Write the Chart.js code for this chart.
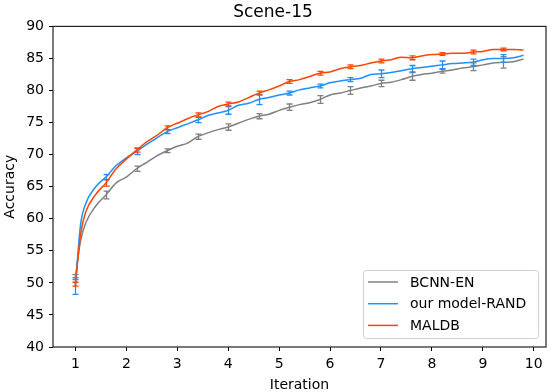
<!DOCTYPE html>
<html>
<head>
<meta charset="utf-8">
<script src="https://cdn.jsdelivr.net/npm/chart.js@4.4.1/dist/chart.umd.min.js"></script>
<style>
  html, body { margin: 0; padding: 0; background: #fff; }
  #wrap { width: 550px; height: 392px; }
</style>
</head>
<body>
<div id="wrap"><canvas id="graphCanvas" width="550" height="392"></canvas></div>
<script>
const xValues = [1, 1.1, 1.2, 1.4, 1.6, 1.8, 2.0, 2.2, 2.4, 2.6, 2.8, 3.0, 3.2, 3.4, 3.6, 3.8, 4.0, 4.2, 4.4, 4.6, 4.8, 5.0, 5.2, 5.4, 5.6, 5.8, 6.0, 6.2, 6.4, 6.6, 6.8, 7.0, 7.2, 7.4, 7.6, 7.8, 8.0, 8.2, 8.4, 8.6, 8.8, 9.0, 9.2, 9.4, 9.6, 9.8];

const bcnnEn = [50.9, 56.5, 59.3, 62.0, 63.7, 65.6, 66.5, 67.8, 68.8, 69.8, 70.6, 71.3, 71.8, 72.8, 73.4, 73.9, 74.3, 74.9, 75.5, 76.0, 76.3, 76.9, 77.4, 77.8, 78.1, 78.6, 79.3, 79.6, 80.0, 80.4, 80.7, 81.1, 81.3, 81.7, 82.2, 82.5, 82.7, 83.0, 83.2, 83.5, 83.7, 84.0, 84.3, 84.4, 84.5, 84.9];
const ourModelRand = [49.5, 59.0, 62.3, 65.0, 66.5, 68.3, 69.5, 70.5, 71.6, 72.6, 73.6, 74.2, 74.8, 75.4, 76.1, 76.5, 76.9, 77.7, 78.0, 78.6, 78.9, 79.3, 79.6, 80.1, 80.4, 80.7, 81.2, 81.5, 81.7, 81.9, 82.5, 82.6, 82.8, 83.1, 83.4, 83.6, 83.8, 84.0, 84.2, 84.3, 84.4, 84.8, 85.0, 85.0, 85.1, 85.5];
const maldb = [49.8, 57.5, 61.0, 63.8, 65.6, 67.8, 69.3, 70.7, 72.0, 73.0, 74.2, 74.9, 75.6, 76.2, 76.7, 77.5, 77.9, 78.2, 78.9, 79.6, 80.1, 80.7, 81.4, 81.7, 82.2, 82.7, 82.9, 83.4, 83.7, 83.9, 84.3, 84.6, 84.8, 85.2, 85.1, 85.4, 85.6, 85.7, 85.8, 85.8, 86.0, 86.1, 86.4, 86.4, 86.4, 86.3];

// error bars only every 0.6 iteration
const errX = [1, 1.6, 2.2, 2.8, 3.4, 4.0, 4.6, 5.2, 5.8, 6.4, 7.0, 7.6, 8.2, 8.8, 9.4];
const bcnnEnErr = [0.4, 0.6, 0.4, 0.3, 0.4, 0.5, 0.4, 0.5, 0.6, 0.6, 0.5, 0.6, 0.3, 0.6, 0.9];
const ourModelRandErr = [1.3, 0.4, 0.5, 0.3, 0.4, 0.6, 0.8, 0.3, 0.3, 0.3, 0.6, 0.5, 0.6, 0.5, 0.6];
const maldbErr = [0.3, 0.5, 0.3, 0.3, 0.3, 0.3, 0.3, 0.3, 0.3, 0.3, 0.3, 0.3, 0.2, 0.3, 0.2];

const xTicks = [1, 2, 3, 4, 5, 6, 7, 8, 9, 10];
const seriesNames = ['BCNN-EN', 'our model-RAND', 'MALDB'];
const colors = ['#808080', '#1e90ff', '#ff4500'];

const FONT = "'DejaVu Sans', sans-serif";

function toPoints(vals) {
    return vals.map((v, i) => ({ x: xValues[i], y: v }));
}

const errorBars = {
    id: 'errorBars',
    afterDatasetsDraw(chart) {
        const { ctx, scales: { x, y } } = chart;
        // draw in dataset index order so red ends up on top
        chart.data.datasets.forEach(ds => {
            ctx.save();
            ctx.strokeStyle = ds.borderColor;
            ctx.lineWidth = 1.3;
            errX.forEach((xv, i) => {
                const idx = xValues.indexOf(xv);
                const v = ds.data[idx].y;
                const e = ds.err[i];
                const px = Math.round(x.getPixelForValue(xv)) + 0.5;
                const y1 = y.getPixelForValue(v - e);
                const y2 = y.getPixelForValue(v + e);
                ctx.beginPath();
                ctx.moveTo(px, y1);
                ctx.lineTo(px, y2);
                ctx.moveTo(px - 3, y1);
                ctx.lineTo(px + 3, y1);
                ctx.moveTo(px - 3, y2);
                ctx.lineTo(px + 3, y2);
                ctx.stroke();
            });
            ctx.restore();
        });
    }
};

const frameAndLegend = {
    id: 'frameAndLegend',
    afterDraw(chart) {
        const { ctx, chartArea: a } = chart;
        ctx.save();
        ctx.strokeStyle = '#222';
        ctx.lineWidth = 1.2;
        ctx.strokeRect(a.left, a.top, a.right - a.left, a.bottom - a.top);

        // legend box, lower right
        const w = 175, h = 68;
        const bx = a.right - 8 - w;
        const by = a.bottom - 9 - h;
        ctx.fillStyle = 'rgba(255,255,255,0.8)';
        ctx.strokeStyle = '#d0d0d0';
        ctx.lineWidth = 1;
        ctx.beginPath();
        ctx.roundRect(bx + 0.5, by + 0.5, w, h, 3);
        ctx.fill();
        ctx.stroke();

        ctx.font = '14px ' + FONT;
        ctx.textBaseline = 'middle';
        ctx.textAlign = 'left';
        seriesNames.forEach((name, i) => {
            const ly = by + 12 + i * 21.7;
            ctx.strokeStyle = colors[i];
            ctx.lineWidth = 1.5;
            ctx.beginPath();
            ctx.moveTo(bx + 5, ly);
            ctx.lineTo(bx + 35, ly);
            ctx.stroke();
            ctx.fillStyle = '#000';
            ctx.fillText(name, bx + 47, ly + 1);
        });
        ctx.restore();
    }
};

const ctx = document.getElementById('graphCanvas').getContext('2d');
new Chart(ctx, {
    type: 'line',
    data: {
        datasets: [
            { label: seriesNames[0], data: toPoints(bcnnEn), err: bcnnEnErr, borderColor: colors[0], order: 3 },
            { label: seriesNames[1], data: toPoints(ourModelRand), err: ourModelRandErr, borderColor: colors[1], order: 2 },
            { label: seriesNames[2], data: toPoints(maldb), err: maldbErr, borderColor: colors[2], order: 1 }
        ].map(d => Object.assign(d, {
            borderWidth: 1.5,
            pointRadius: 0,
            fill: false,
            cubicInterpolationMode: 'monotone'
        }))
    },
    options: {
        responsive: false,
        animation: false,
        events: [],
        layout: { padding: { left: 0, right: 4, top: 0, bottom: 0 } },
        plugins: {
            legend: { display: false },
            tooltip: { enabled: false },
            title: {
                display: true,
                text: 'Scene-15',
                color: '#000',
                font: { family: FONT, size: 17, weight: 'normal' },
                padding: { top: 2, bottom: 4 }
            }
        },
        scales: {
            x: {
                type: 'linear',
                position: 'bottom',
                min: 0.56,
                max: 10.24,
                afterBuildTicks: axis => { axis.ticks = xTicks.map(v => ({ value: v })); },
                afterFit: s => { s.height = 45; },
                ticks: {
                    color: '#000',
                    font: { family: FONT, size: 14 },
                    padding: 5,
                    maxRotation: 0,
                    autoSkip: false
                },
                grid: { drawOnChartArea: false, drawTicks: true, tickLength: 4, tickColor: '#000' },
                border: { display: false },
                title: {
                    display: true,
                    text: 'Iteration',
                    color: '#000',
                    font: { family: FONT, size: 14 },
                    padding: { top: 0, bottom: -2 }
                }
            },
            y: {
                min: 40,
                max: 90,
                afterFit: s => { s.width = 53; },
                ticks: {
                    stepSize: 5,
                    color: '#000',
                    font: { family: FONT, size: 14 },
                    padding: 5
                },
                grid: { drawOnChartArea: false, drawTicks: true, tickLength: 4, tickColor: '#000' },
                border: { display: false },
                title: {
                    display: true,
                    text: 'Accuracy',
                    color: '#000',
                    font: { family: FONT, size: 14 },
                    padding: { top: 2, bottom: 0 }
                }
            }
        }
    },
    plugins: [errorBars, frameAndLegend]
});
</script>
</body>
</html>
